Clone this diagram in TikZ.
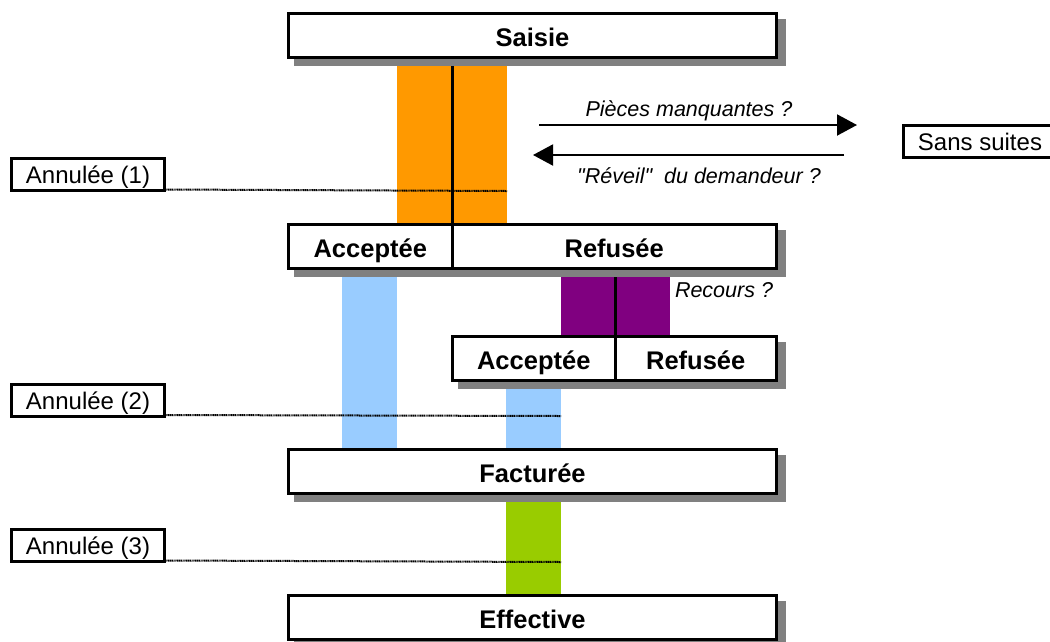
\documentclass[tikz,border=0pt]{standalone}
\usepackage{fontspec}
\setmainfont{Liberation Sans}
\usetikzlibrary{positioning,arrows.meta,backgrounds}
\definecolor{saisieorange}{HTML}{FF9900}
\definecolor{bleuclair}{HTML}{99CCFF}
\definecolor{recoursviolet}{HTML}{800080}
\definecolor{vertfacture}{HTML}{99CC00}
\definecolor{ombre}{HTML}{808080}

\begin{document}
\begin{tikzpicture}[x=1pt,y=-1pt,
  etat/.style={draw, line width=3pt, fill=white, inner sep=0pt, outer sep=0pt,
    minimum height=44pt, text height=25pt, text depth=3.5pt,
    font=\fontsize{25.5}{30}\selectfont\bfseries},
  annul/.style={draw, line width=3pt, fill=white, inner sep=0pt, outer sep=0pt,
    minimum width=153pt, minimum height=32pt, text height=21pt, text depth=3pt,
    font=\fontsize{24}{28}\selectfont},
  pointille/.style={line width=2pt, dash pattern=on 1.2pt off 0.6pt},
  fleche/.style={line width=2pt, -{Triangle[length=20pt,width=21pt]}},
  question/.style={font=\fontsize{21.5}{25}\selectfont\itshape},
  trait/.style={line width=3pt}
]
\useasboundingbox (0,0) rectangle (1050,641);

\node[etat, minimum width=488pt] (saisie) at (532.5,35.5) {Saisie};
\node[etat, minimum width=163.5pt, anchor=west] (acc1) at (288.5,246.5) {Accept\'ee};
\node[etat, minimum width=324.5pt, right=0pt of acc1] (ref1) {Refus\'ee};
\node[etat, minimum width=162.5pt, anchor=west] (acc2) at (452.5,358.5) {Accept\'ee};
\node[etat, minimum width=161.5pt, right=0pt of acc2] (ref2) {Refus\'ee};
\node[etat, minimum width=488pt] (facturee) at (532.5,471.5) {Factur\'ee};
\node[etat, minimum width=488pt] (effective) at (532.5,617.5) {Effective};

\begin{scope}[on background layer]
\fill[saisieorange] (397,59) rectangle (507,224);
\fill[bleuclair] (342,270) rectangle (397,448);
\fill[recoursviolet] (561,270) rectangle (670,335);
\fill[bleuclair] (506,382) rectangle (561,448);
\fill[vertfacture] (506,495) rectangle (561,594);
\draw[trait] (ref1.north west |- saisie.south) -- (ref1.north west);
\draw[trait] (ref2.north west) -- (ref2.north west |- 615,276);
\foreach \a/\b in {saisie/saisie, acc1/ref1, acc2/ref2, facturee/facturee, effective/effective}
  \fill[ombre] ([shift={(5,5)}]\a.north west) rectangle ([shift={(9,8)}]\b.south east);
\end{scope}

\node[annul] (annul1) at (88,174.5) {Annul\'ee (1)};
\node[annul] (annul2) at (88,400) {Annul\'ee (2)};
\node[annul] (annul3) at (88,545.5) {Annul\'ee (3)};
\node[annul] (sanssuites) at (980,141) {Sans suites};

\coordinate (fin1) at (507,191);
\coordinate (fin2) at (561,416);
\coordinate (fin3) at (561,562);
\draw[pointille] (annul1.south east) ++(0,-1) -- (fin1);
\draw[pointille] (annul2.south east) ++(0,-1) -- (fin2);
\draw[pointille] (annul3.south east) ++(0,-1) -- (fin3);

\coordinate (pm1) at (539,125);
\coordinate (pm2) at (857,125);
\coordinate (rv1) at (844,155);
\coordinate (rv2) at (533,155);
\draw[fleche] (pm1) -- (pm2);
\draw[fleche] (rv1) -- (rv2);
\node[question] (pieces) at (689,111) {Pi\`eces manquantes ?};
\node[question] (reveil) at (699,176) {\textquotedbl R\'eveil\textquotedbl\ \ du demandeur ?};
\node[question] (recours) at (724,290) {Recours ?};
\end{tikzpicture}
\end{document}
